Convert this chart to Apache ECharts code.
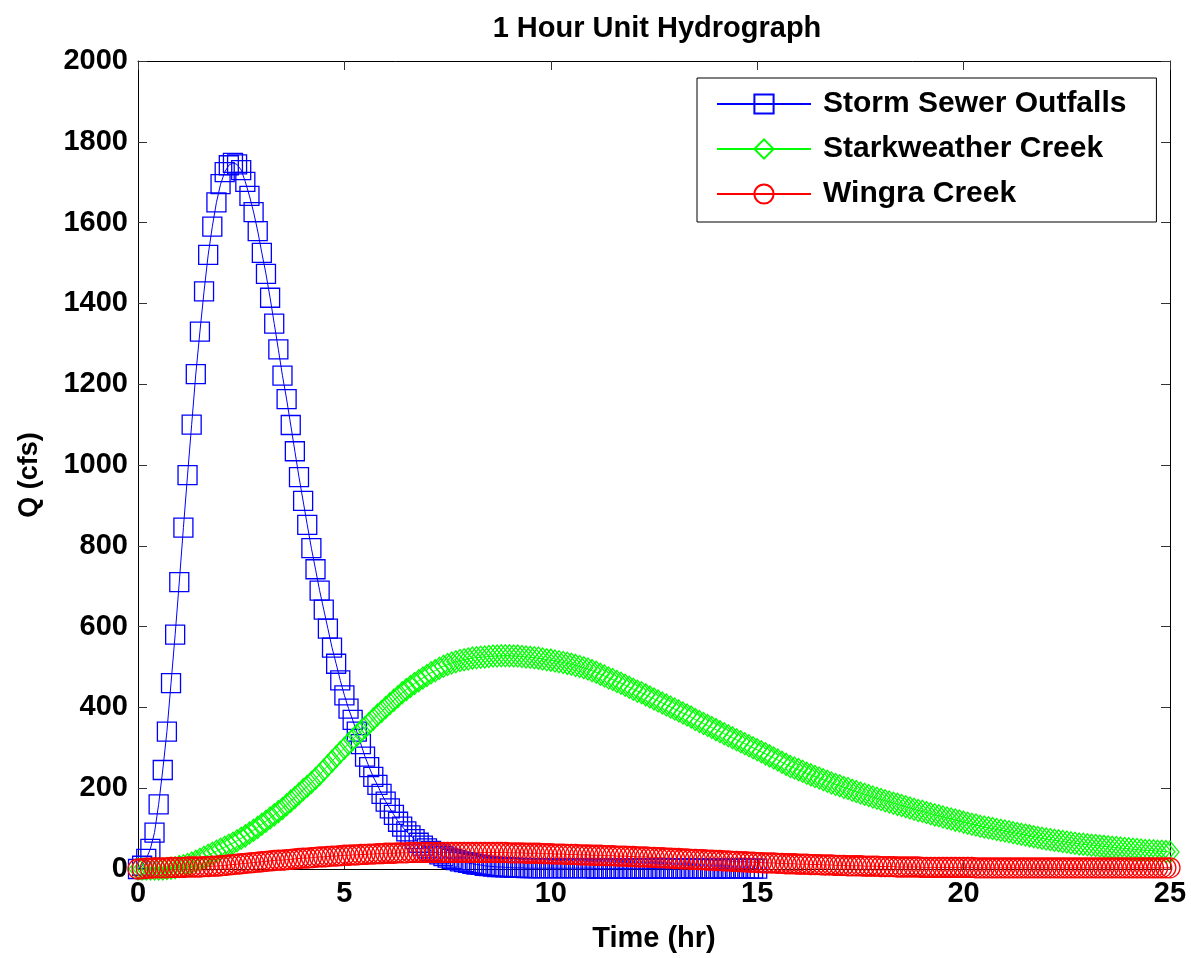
<!DOCTYPE html>
<html>
<head>
<meta charset="utf-8">
<title>1 Hour Unit Hydrograph</title>
<script src="https://cdn.jsdelivr.net/npm/echarts@6/dist/echarts.min.js"></script>
<style>
  html, body { margin: 0; padding: 0; background: #fff; }
  #main { width: 1191px; height: 958px; }
</style>
</head>
<body>
<div id="main"></div>
<script>
// time step of the hydrograph ordinates (hr)
const dt = 0.1;

// Storm Sewer Outfalls, t = 0 .. 15 hr (cfs)
const stormSewer = [
  0, 8, 25, 50, 90, 160, 245, 340, 460, 580,
  710, 845, 975, 1100, 1225, 1330, 1430, 1520, 1590, 1650,
  1695, 1725, 1742, 1748, 1744, 1730, 1701, 1666, 1626, 1579,
  1525, 1473, 1414, 1350, 1286, 1221, 1163, 1099, 1034, 970,
  911, 852, 794, 742, 689, 642, 595, 548, 508, 467,
  430, 397, 369, 340, 309, 278, 252, 228, 208, 186,
  167, 150, 134, 117, 105, 93, 83, 74, 65, 58,
  51, 45, 41, 36, 32, 28, 25, 22, 19, 17,
  15, 13, 11, 10, 8, 7, 6, 5, 5, 4,
  4, 3, 3, 3, 2, 2, 2, 2, 2, 2,
  2, 2, 2, 2, 2, 2, 2, 2, 2, 2,
  2, 1, 1, 1, 1, 1, 1, 1, 1, 1,
  1, 1, 1, 1, 1, 1, 1, 1, 1, 1,
  1, 1, 1, 1, 1, 1, 1, 1, 1, 1,
  1, 1, 1, 1, 1, 1, 1, 1, 1, 1,
  1
];

// Starkweather Creek, t = 0 .. 25 hr (cfs)
const starkweather = [
  0, 0, 0, 0, 0, 0, 0, 1, 2, 3,
  6, 8, 11, 15, 19, 24, 29, 34, 39, 44,
  49, 54, 59, 64, 70, 76, 82, 89, 96, 103,
  111, 118, 126, 134, 142, 150, 159, 168, 177, 186,
  196, 205, 214, 224, 234, 245, 256, 267, 278, 289,
  299, 310, 320, 331, 341, 351, 361, 371, 381, 390,
  400, 409, 418, 427, 436, 444, 452, 459, 466, 473,
  479, 486, 491, 497, 502, 506, 510, 513, 516, 518,
  520, 522, 523, 524, 525, 526, 527, 527, 528, 528,
  528, 527, 527, 526, 525, 524, 523, 522, 520, 518,
  517, 515, 513, 511, 509, 507, 504, 501, 498, 495,
  491, 487, 482, 478, 473, 469, 464, 460, 455, 450,
  445, 440, 436, 431, 426, 421, 416, 411, 406, 401,
  396, 391, 386, 381, 376, 370, 365, 360, 355, 350,
  345, 340, 335, 330, 325, 320, 315, 310, 305, 300,
  295, 290, 285, 280, 275, 270, 264, 259, 254, 250,
  246, 242, 237, 233, 229, 225, 221, 217, 213, 209,
  206, 202, 199, 195, 192, 188, 185, 182, 178, 175,
  172, 169, 166, 163, 160, 157, 154, 151, 148, 145,
  143, 140, 137, 134, 132, 129, 126, 124, 121, 119,
  116, 113, 111, 109, 106, 104, 102, 100, 98, 96,
  94, 92, 90, 88, 86, 84, 82, 80, 78, 76,
  74, 73, 71, 70, 68, 67, 65, 64, 62, 61,
  60, 59, 58, 57, 56, 55, 54, 53, 52, 51,
  50, 49, 48, 47, 46, 46, 45, 44, 44, 43,
  42
];

// Wingra Creek, t = 0 .. 25 hr (cfs)
const wingra = [
  0, 1, 2, 2, 3, 3, 3, 3, 4, 4,
  4, 4, 5, 5, 5, 5, 6, 6, 7, 7,
  8, 9, 10, 11, 12, 13, 14, 15, 16, 17,
  18, 19, 20, 21, 22, 22, 23, 24, 25, 26,
  27, 27, 28, 29, 30, 30, 31, 32, 32, 33,
  34, 34, 35, 35, 36, 36, 37, 37, 38, 38,
  39, 39, 39, 40, 40, 40, 41, 41, 41, 41,
  41, 41, 41, 41, 41, 41, 41, 41, 41, 41,
  41, 41, 41, 41, 41, 41, 41, 41, 41, 41,
  40, 40, 40, 40, 39, 39, 39, 39, 38, 38,
  38, 37, 37, 37, 36, 36, 36, 35, 35, 35,
  34, 34, 34, 33, 33, 33, 32, 32, 32, 31,
  31, 30, 30, 30, 29, 29, 28, 28, 27, 27,
  26, 26, 25, 25, 24, 24, 23, 23, 22, 22,
  21, 21, 20, 20, 19, 19, 18, 18, 17, 17,
  16, 16, 15, 15, 15, 14, 14, 13, 13, 13,
  12, 12, 12, 11, 11, 11, 10, 10, 10, 9,
  9, 9, 8, 8, 8, 8, 7, 7, 7, 7,
  6, 6, 6, 6, 5, 5, 5, 5, 5, 5,
  4, 4, 4, 4, 4, 4, 4, 4, 4, 4,
  4, 4, 4, 3, 3, 3, 3, 3, 3, 3,
  3, 3, 3, 3, 3, 3, 3, 3, 3, 3,
  3, 3, 3, 3, 3, 3, 3, 3, 3, 3,
  3, 3, 3, 3, 3, 3, 3, 3, 3, 3,
  3, 3, 3, 3, 3, 3, 3, 3, 3, 3,
  3
];

const seriesNames = ['Storm Sewer Outfalls', 'Starkweather Creek', 'Wingra Creek'];
const seriesColors = ['#0000ff', '#00ff00', '#ff0000'];

const xTicks = { min: 0, max: 25, interval: 5 };
const yTicks = { min: 0, max: 2000, interval: 200 };

// pair every ordinate with its time
const withTime = vals => vals.map((v, i) => [Math.round(i * dt * 10) / 10, v]);

const FONT = '"Liberation Sans", Arial, Helvetica, sans-serif';

const chartDom = document.getElementById('main');
const myChart = echarts.init(chartDom, null, { renderer: 'canvas' });

const axisLineStyle = { color: '#000', width: 1 };
const tickStyle = { show: true, inside: true, length: 9, lineStyle: { color: '#333', width: 1 } };
const plainNumber = v => String(v);

function makeSeries(idx, vals, symbol, size) {
  return {
    name: seriesNames[idx],
    type: 'line',
    data: withTime(vals),
    symbol: symbol,
    symbolSize: size,
    showSymbol: true,
    showAllSymbol: true,
    lineStyle: { color: seriesColors[idx], width: 1 },
    itemStyle: { color: 'rgba(0,0,0,0)', borderColor: seriesColors[idx], borderWidth: 1.3 },
    emphasis: { disabled: true },
    clip: false,
    animation: false
  };
}

const option = {
  backgroundColor: '#fff',
  animation: false,
  title: {
    text: '1 Hour Unit Hydrograph',
    left: 652,
    textAlign: 'center',
    top: 9,
    textStyle: { fontFamily: FONT, fontWeight: 'bold', fontSize: 29, color: '#000' }
  },
  legend: {
    orient: 'vertical',
    left: 697,
    top: 78,
    padding: [11, 30, 13, 19],
    itemGap: 15,
    itemWidth: 94,
    itemHeight: 24,
    borderColor: '#000',
    borderWidth: 1,
    backgroundColor: '#fff',
    data: seriesNames,
    textStyle: { fontFamily: FONT, fontWeight: 'bold', fontSize: 30, color: '#000', lineHeight: 30, padding: [0, 0, 0, 7] }
  },
  grid: { left: 138, top: 61, width: 1032, height: 812, containLabel: false },
  xAxis: [
    {
      type: 'value', position: 'bottom',
      min: xTicks.min, max: xTicks.max, interval: xTicks.interval,
      axisLine: { show: true, onZero: false, lineStyle: axisLineStyle },
      axisTick: tickStyle,
      splitLine: { show: false },
      axisLabel: { fontFamily: FONT, fontWeight: 'bold', fontSize: 29, color: '#000', margin: 10, formatter: plainNumber },
      name: 'Time (hr)', nameLocation: 'middle', nameGap: 55,
      nameTextStyle: { fontFamily: FONT, fontWeight: 'bold', fontSize: 29, color: '#000' }
    },
    {
      type: 'value', position: 'top',
      min: xTicks.min, max: xTicks.max, interval: xTicks.interval,
      axisLine: { show: true, onZero: false, lineStyle: axisLineStyle },
      axisTick: tickStyle,
      splitLine: { show: false },
      axisLabel: { show: false }
    }
  ],
  yAxis: [
    {
      type: 'value', position: 'left',
      min: yTicks.min, max: yTicks.max, interval: yTicks.interval,
      axisLine: { show: true, onZero: false, lineStyle: axisLineStyle },
      axisTick: tickStyle,
      splitLine: { show: false },
      axisLabel: { fontFamily: FONT, fontWeight: 'bold', fontSize: 29, color: '#000', margin: 10, formatter: plainNumber },
      name: 'Q (cfs)', nameLocation: 'middle', nameGap: 95, nameRotate: 90,
      nameTextStyle: { fontFamily: FONT, fontWeight: 'bold', fontSize: 27, color: '#000', padding: [0, 20, 0, 0] }
    },
    {
      type: 'value', position: 'right',
      min: yTicks.min, max: yTicks.max, interval: yTicks.interval,
      axisLine: { show: true, onZero: false, lineStyle: axisLineStyle },
      axisTick: tickStyle,
      splitLine: { show: false },
      axisLabel: { show: false }
    }
  ],
  series: [
    makeSeries(0, stormSewer, 'rect', 19),
    makeSeries(1, starkweather, 'diamond', [18, 22]),
    makeSeries(2, wingra, 'circle', 20)
  ]
};

option && myChart.setOption(option);
</script>
</body>
</html>
